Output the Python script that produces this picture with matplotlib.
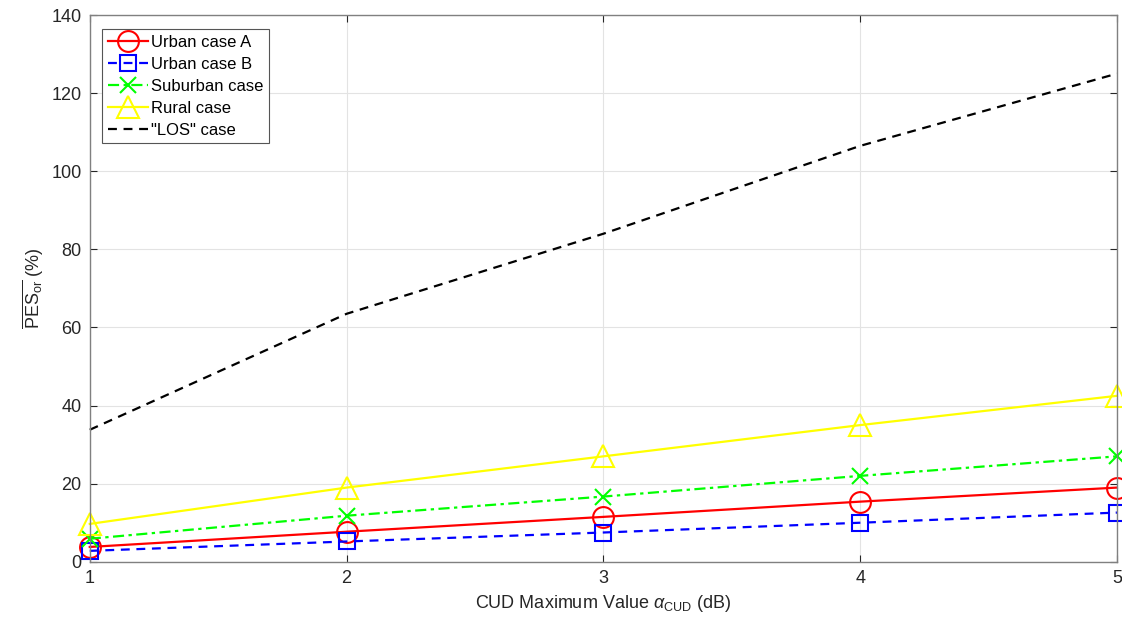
import matplotlib
matplotlib.use("Agg")
import matplotlib.pyplot as plt

plt.rcParams['font.family'] = ['Liberation Sans', 'DejaVu Sans']
plt.rcParams['mathtext.fontset'] = 'custom'
plt.rcParams['mathtext.rm'] = 'Liberation Sans'
plt.rcParams['mathtext.it'] = 'Liberation Sans:italic'

x = [1, 2, 3, 4, 5]
urban_a = [3.8, 7.7, 11.5, 15.4, 19.0]
urban_b = [2.8, 5.2, 7.5, 10.0, 12.6]
suburban = [5.9, 11.8, 16.7, 22.0, 27.0]
rural = [9.7, 19.0, 27.0, 35.0, 42.5]
los = [33.8, 63.5, 84.0, 106.5, 125.0]

labels = ['Urban case A', 'Urban case B', 'Suburban case', 'Rural case', '"LOS" case']
xticks = [1, 2, 3, 4, 5]
yticks = [0, 20, 40, 60, 80, 100, 120, 140]

fig = plt.figure(figsize=(11.22, 6.27), dpi=100)
ax = fig.add_axes([0.080, 0.104, 0.9155, 0.872])

lw = 1.6
ax.plot(x, urban_a, color='red', linestyle='-', marker='o', markersize=15,
        markerfacecolor='none', markeredgewidth=1.5, linewidth=lw, label=labels[0], clip_on=False)
ax.plot(x, urban_b, color='blue', linestyle=(0, (4, 3)), marker='s', markersize=12,
        markerfacecolor='none', markeredgewidth=1.5, linewidth=lw, label=labels[1], clip_on=False)
ax.plot(x, suburban, color='#00ff00', linestyle=(0, (5, 2, 1.5, 2)), marker='x', markersize=11,
        markeredgewidth=1.5, linewidth=lw, label=labels[2], clip_on=False)
ax.plot(x, rural, color='#ffff00', linestyle='-', marker='^', markersize=16,
        markerfacecolor='none', markeredgewidth=1.5, linewidth=lw, label=labels[3], clip_on=False)
ax.plot(x, los, color='black', linestyle=(0, (4, 3)), linewidth=lw, label=labels[4], clip_on=False)

ax.set_xlim(1, 5)
ax.set_ylim(0, 140)
ax.set_xticks(xticks)
ax.set_yticks(yticks)
ax.grid(True, color='#e3e3e3', linewidth=0.8)
ax.set_axisbelow(True)
for s in ax.spines.values():
    s.set_color('#808080')
    s.set_linewidth(1.0)
ax.tick_params(direction='in', colors='#262626', labelsize=13, length=5, pad=6,
               top=True, right=True)

ax.set_xlabel(r'CUD Maximum Value $\alpha_{\mathrm{CUD}}$ (dB)', fontsize=13, color='#262626')
ax.set_ylabel(r'$\overline{\mathrm{PES}_{\mathrm{or}}}$ (%)', fontsize=13, color='#262626')

leg = ax.legend(loc='upper left', bbox_to_anchor=(0.012, 0.975), fontsize=12, frameon=True,
                fancybox=False, edgecolor='#555555', handlelength=2.4, handletextpad=0.2,
                borderpad=0.35, labelspacing=0.42, borderaxespad=0.0, framealpha=1)
leg.get_frame().set_linewidth(0.8)

fig.savefig('out.png', dpi=100)
